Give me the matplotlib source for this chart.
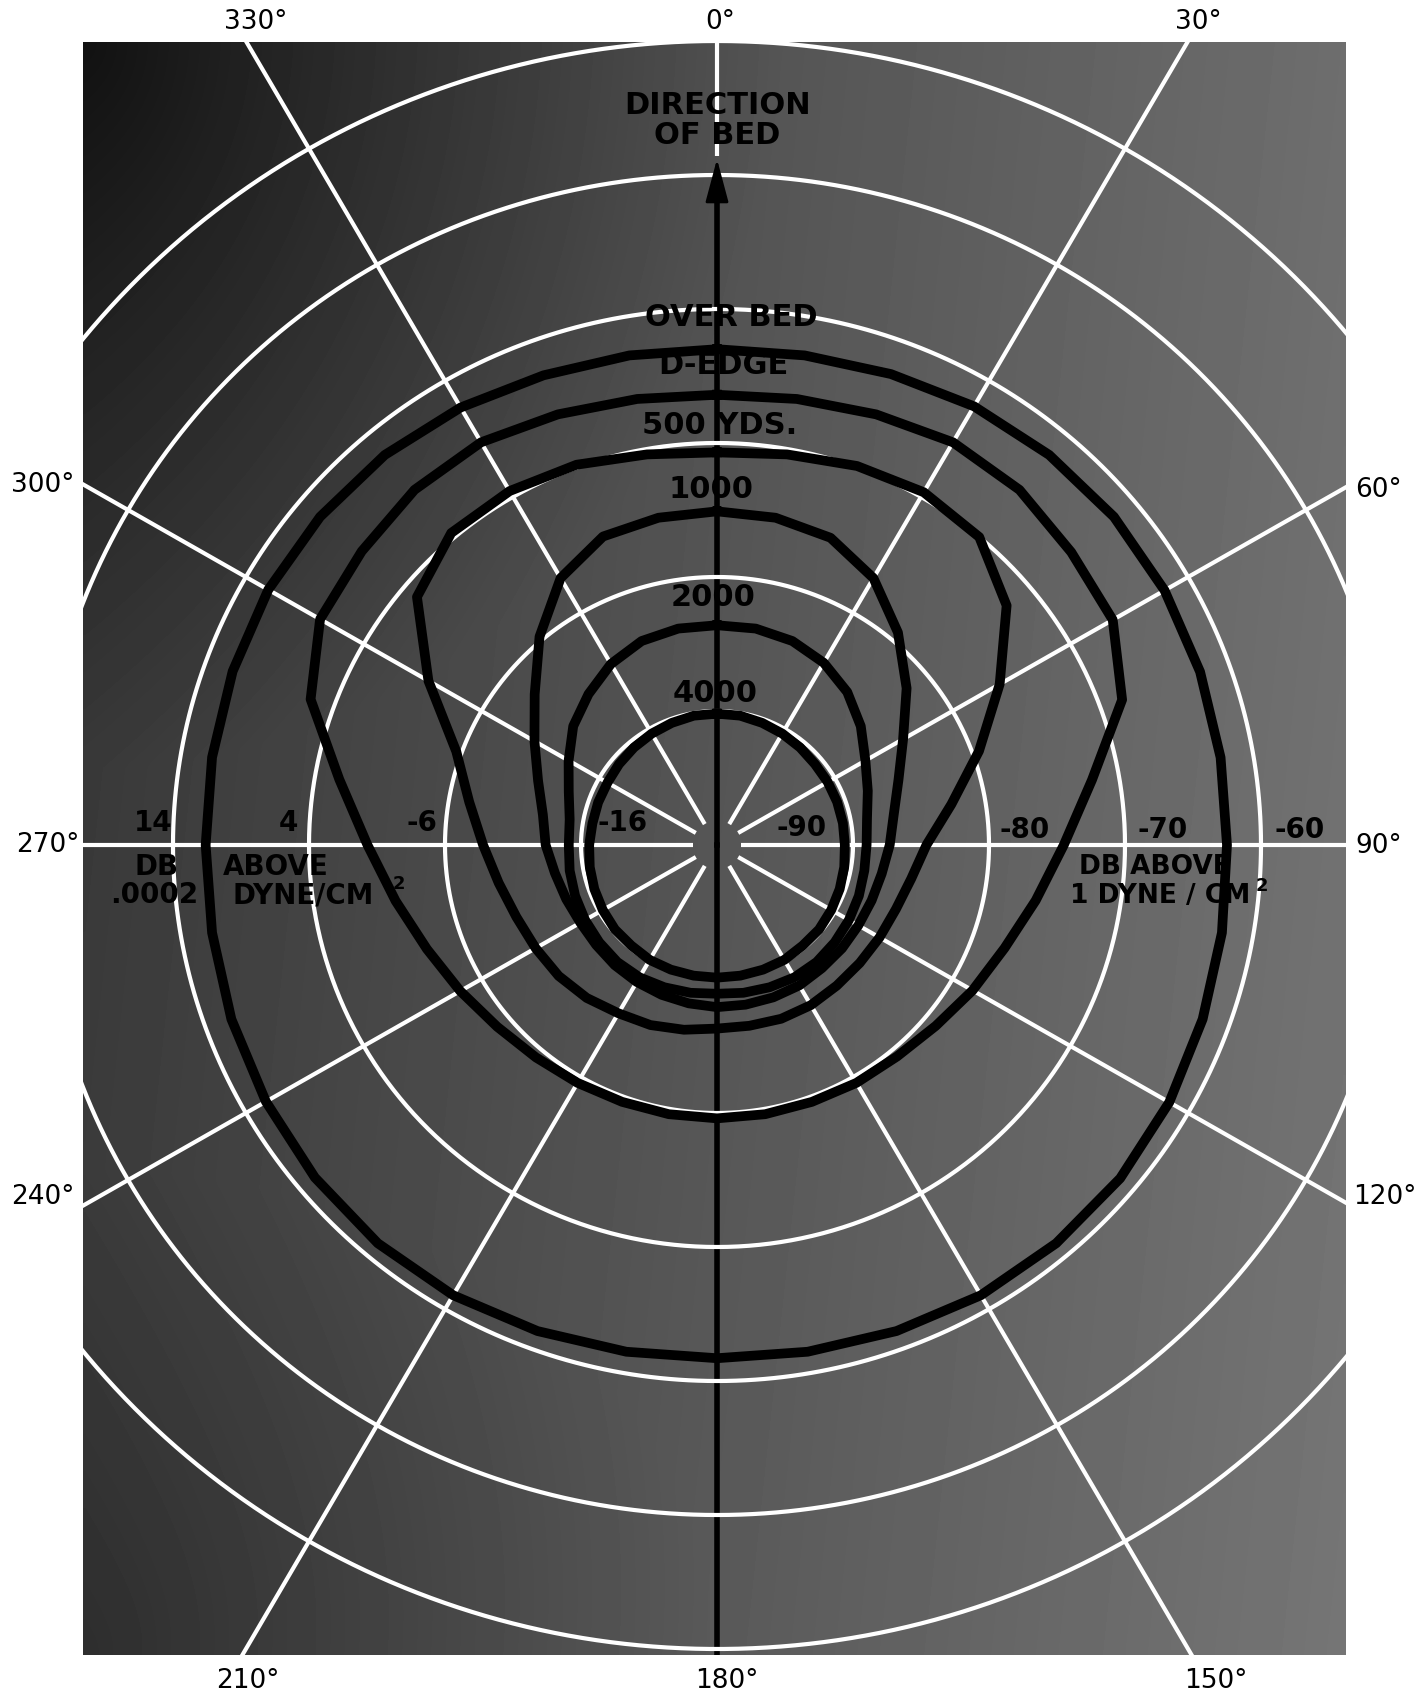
import numpy as np
import matplotlib
matplotlib.use("Agg")
import matplotlib.pyplot as plt
from matplotlib.patches import Rectangle

# ---------------- data ----------------
# bearing of each reading, degrees clockwise from "direction of bed"
ANGLES_DEG = list(range(0, 360, 10))

# radial distance of each contour at those bearings, in grid-ring units
OVER_BED = [3.70, 3.71, 3.74, 3.78, 3.80, 3.81, 3.80, 3.78, 3.76, 3.75, 3.77, 3.80,
            3.84, 3.87, 3.88, 3.88, 3.86, 3.84, 3.83, 3.84, 3.86, 3.88, 3.88, 3.86,
            3.83, 3.80, 3.77, 3.76, 3.77, 3.79, 3.81, 3.81, 3.80, 3.77, 3.73, 3.71]
D_EDGE = [3.36, 3.38, 3.42, 3.47, 3.46, 3.40, 3.36, 3.17, 2.80, 2.55, 2.38, 2.25,
          2.17, 2.10, 2.06, 2.05, 2.04, 2.04, 2.04, 2.04, 2.04, 2.05, 2.07, 2.11,
          2.18, 2.27, 2.40, 2.57, 2.82, 3.18, 3.37, 3.41, 3.46, 3.47, 3.42, 3.38]
YDS_500 = [2.93, 2.96, 3.01, 3.04, 3.00, 2.78, 2.40, 2.05, 1.75, 1.54, 1.45, 1.40,
           1.38, 1.37, 1.37, 1.38, 1.38, 1.37, 1.37, 1.40, 1.43, 1.45, 1.49, 1.52,
           1.54, 1.57, 1.63, 1.72, 1.85, 2.04, 2.45, 2.88, 3.04, 3.05, 3.02, 2.96]
YDS_1000 = [2.49, 2.48, 2.44, 2.30, 2.07, 1.82, 1.58, 1.42, 1.32, 1.27, 1.23, 1.21,
            1.20, 1.20, 1.20, 1.21, 1.21, 1.21, 1.21, 1.20, 1.19, 1.18, 1.17, 1.16,
            1.16, 1.18, 1.21, 1.26, 1.30, 1.40, 1.55, 1.75, 2.03, 2.30, 2.45, 2.48]
YDS_2000 = [1.64, 1.64, 1.62, 1.57, 1.49, 1.38, 1.26, 1.18, 1.12, 1.10, 1.10, 1.11,
            1.12, 1.13, 1.14, 1.14, 1.13, 1.12, 1.11, 1.12, 1.13, 1.14, 1.14, 1.13,
            1.12, 1.11, 1.10, 1.09, 1.10, 1.16, 1.26, 1.38, 1.47, 1.56, 1.62, 1.64]
YDS_4000 = [0.98, 0.98, 0.97, 0.96, 0.95, 0.94, 0.94, 0.94, 0.94, 0.94, 0.95, 0.96,
            0.97, 0.98, 0.98, 0.99, 0.99, 0.99, 0.99, 0.99, 0.99, 0.99, 0.98, 0.98,
            0.97, 0.96, 0.95, 0.94, 0.93, 0.93, 0.93, 0.94, 0.95, 0.96, 0.97, 0.98]

CURVES = [OVER_BED, D_EDGE, YDS_500, YDS_1000, YDS_2000, YDS_4000]
CURVE_LABELS = ["OVER BED", "D-EDGE", "500 YDS.", "1000", "2000", "4000"]

LEFT_SCALE = ["14", "4", "-6", "-16"]
RIGHT_SCALE = ["-90", "-80", "-70", "-60"]
ANGLE_LABELS = ["330°", "0°", "30°", "300°", "270°", "240°",
                "60°", "90°", "120°", "210°", "180°", "150°"]

ARROW_TIP_R = 5.14

# ---------------- layout / style ----------------
W, H, DPI = 1418, 1698, 100
FX0, FY0, FX1, FY1 = 83, 42, 1346, 1655      # dark frame (px)
CX, CY = 717, 845                            # pole (px)
UX, UY = 136, 134                            # one ring in px (h, v)
RMAX = 8
RINGS = [1, 2, 3, 4, 5, 6]
SPOKES = [30, 60, 90, 120, 150, 210, 240, 270, 300, 330]

fig = plt.figure(figsize=(W / DPI, H / DPI), dpi=DPI)
fig.patch.set_facecolor("white")


def fx(px):
    return px / W


def fy(py):
    return 1 - py / H


# background shading of the photographed plate
bg = fig.add_axes([fx(FX0), fy(FY1), (FX1 - FX0) / W, (FY1 - FY0) / H])
u = np.linspace(0, 1, 260)
v = np.linspace(0, 1, 330)
U, V = np.meshgrid(u, v)
G = 0.21 + 0.22 * U + 0.03 * V
G -= 0.14 * np.clip(1 - np.hypot(U / 0.55, V / 0.45), 0, 1)
G -= 0.06 * np.clip(1 - np.hypot(U / 0.5, (1 - V) / 0.3), 0, 1)
bg.imshow(G, cmap="gray", vmin=0, vmax=1, aspect="auto",
          extent=[0, 1, 1, 0], interpolation="bilinear")
bg.axis("off")

# polar axes (slightly elliptical like the photographed plate)
ax = fig.add_axes([fx(CX - RMAX * UX), fy(CY + RMAX * UY),
                   2 * RMAX * UX / W, 2 * RMAX * UY / H], projection="polar")
ax.set_aspect("auto")
ax.set_theta_zero_location("N")
ax.set_theta_direction(-1)
ax.set_ylim(0, RMAX)
ax.patch.set_visible(False)
ax.grid(False)
ax.set_xticks([])
ax.set_yticks([])
ax.spines["polar"].set_visible(False)

clip = Rectangle((fx(FX0), fy(FY1)), (FX1 - FX0) / W, (FY1 - FY0) / H,
                 transform=fig.transFigure)

lines = []
th_full = np.radians(np.arange(0, 360.5, 0.5))
grid_kw = dict(color="white", lw=3.0, solid_capstyle="butt", zorder=3)
for r in RINGS:
    lines += ax.plot(th_full, np.full_like(th_full, r), **grid_kw)
for a in SPOKES:
    lines += ax.plot([np.radians(a)] * 2, [0.18, RMAX], **grid_kw)
# white spoke above the arrow tip
lines += ax.plot([0, 0], [ARROW_TIP_R, RMAX], **grid_kw)

# black axis line through the pole
lines += ax.plot([np.pi, np.pi], [0, RMAX], color="black", lw=4.0, zorder=2)
lines += ax.plot([0, 0], [0, ARROW_TIP_R - 0.2], color="black", lw=4.0, zorder=2)
ax.annotate("", xy=(0, ARROW_TIP_R), xytext=(0, ARROW_TIP_R - 0.3),
            arrowprops=dict(arrowstyle="-|>,head_length=1.5,head_width=0.4",
                            color="black", lw=2, mutation_scale=18), zorder=4)

# contours
th = np.radians(ANGLES_DEG + [ANGLES_DEG[0] + 360])
for vals in CURVES:
    ln, = ax.plot(th, list(vals) + [vals[0]], color="black", lw=7.0,
                  solid_joinstyle="round", zorder=5)
    lines.append(ln)

for ln in lines:
    ln.set_clip_path(clip)

# ---------------- texts ----------------
tkw = dict(ha="center", va="center", fontweight="bold", color="black",
           fontsize=21, family="DejaVu Sans", zorder=10)


def put(px, py, s, **kw):
    d = dict(tkw)
    d.update(kw)
    fig.text(fx(px), fy(py), s, **d)


put(718, 105, "DIRECTION", fontsize=22)
put(717, 135, "OF BED", fontsize=22)
label_pos = [(731, 317), (723, 366), (720, 425), (711, 490), (713, 598), (715, 693)]
for (px, py), s in zip(label_pos, CURVE_LABELS):
    put(px, py, s, fontsize=22)

for (px, py), s in zip([(153, 823), (288, 823), (422, 823), (623, 823)], LEFT_SCALE):
    put(px, py, s, fontsize=20)
for (px, py), s in zip([(802, 828), (1025, 830), (1163, 830), (1300, 830)], RIGHT_SCALE):
    put(px, py, s, fontsize=20)

put(157, 867, "DB", fontsize=20)
put(276, 867, "ABOVE", fontsize=20)
put(154, 895, ".0002", fontsize=20)
put(303, 895, "DYNE/CM", fontsize=20)
put(399, 884, "2", fontsize=13)
put(1155, 867, "DB ABOVE", fontsize=19)
put(1160, 896, "1 DYNE / CM", fontsize=19)
put(1262, 886, "2", fontsize=13)

angle_pos = [(256, 22), (720, 22), (1198, 22), (43, 485), (48, 845), (43, 1197),
             (1378, 490), (1379, 846), (1385, 1197), (248, 1681), (727, 1681), (1216, 1681)]
for (px, py), s in zip(angle_pos, ANGLE_LABELS):
    put(px, py, s, fontweight="normal", fontsize=19)

fig.savefig("out.png", dpi=DPI, facecolor="white")
